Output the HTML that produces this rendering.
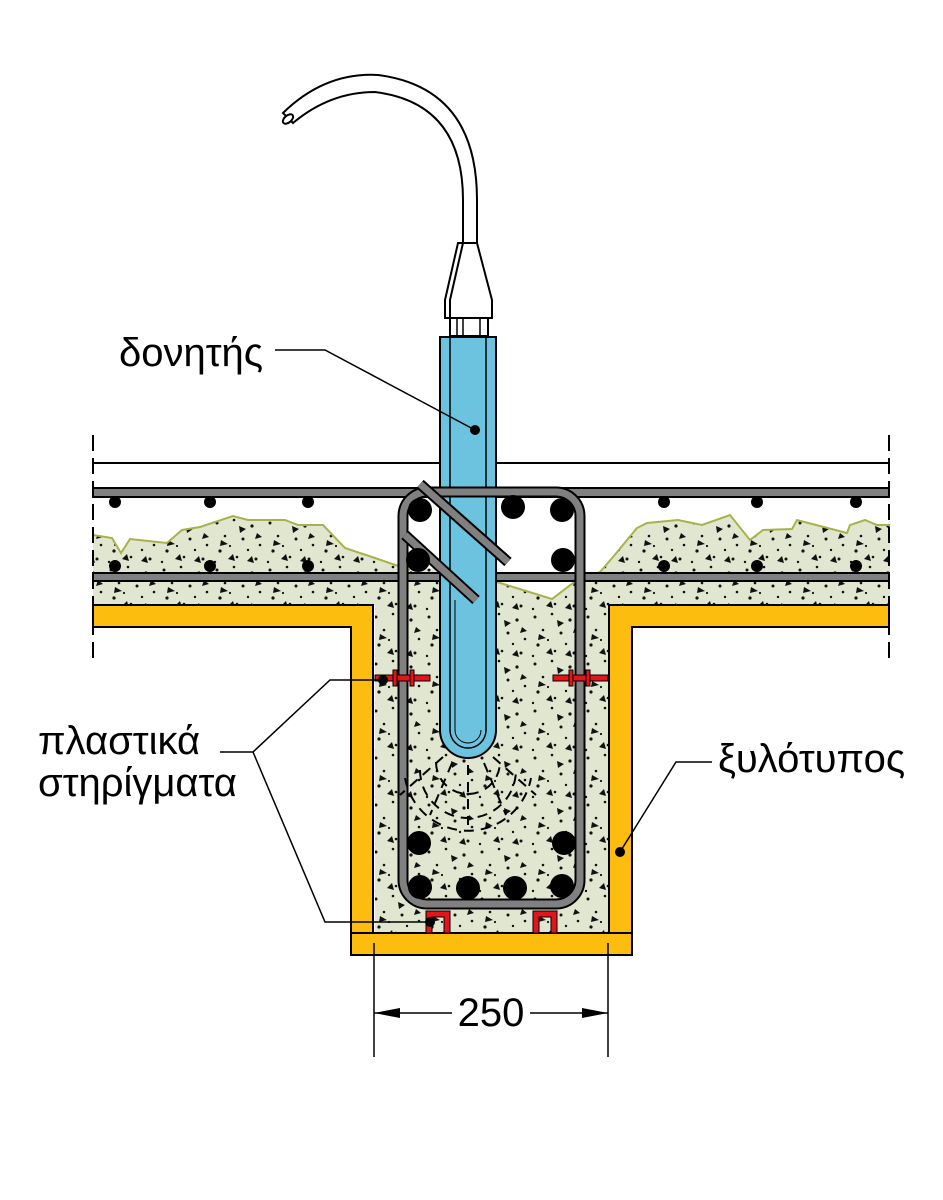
<!DOCTYPE html>
<html><head><meta charset="utf-8"><style>
html,body{margin:0;padding:0;background:#fff}
svg{display:block}
text{font-family:"Liberation Sans",Arial,sans-serif;font-size:40px;fill:#000}
</style></head><body>
<svg width="943" height="1200" viewBox="0 0 943 1200" xmlns="http://www.w3.org/2000/svg">
<defs>
<pattern id="sp" width="53" height="47" patternUnits="userSpaceOnUse">
<rect width="53" height="47" fill="#e0e6cf"/>
<g fill="#111">
<circle cx="5" cy="6" r="1.5"/><circle cx="22" cy="3" r="1.3"/><circle cx="40" cy="9" r="1.6"/>
<circle cx="13" cy="19" r="1.3"/><circle cx="31" cy="22" r="1.5"/><circle cx="48" cy="28" r="1.3"/>
<circle cx="8" cy="34" r="1.6"/><circle cx="25" cy="40" r="1.3"/><circle cx="44" cy="42" r="1.5"/>
<circle cx="36" cy="33" r="1.2"/><circle cx="3" cy="45" r="1.2"/><circle cx="18" cy="29" r="1.1"/>
<polygon points="27,9 34,12 28,16"/><polygon points="9,23 16,27 8,29"/><polygon points="45,16 50,20 43,22"/>
<polygon points="16,42 21,37 23,44"/><polygon points="35,44 40,39 42,46"/>
</g>
</pattern>
</defs>

<polygon fill="url(#sp)" stroke="none" points="93,535 112,538 121,553 130,539 167,543 182,530 200,527 233,516 248,520 285,520 298,525 323,525 345,548 375,558 410,570 437,568 497,582 552,599 573,583 600,572 613,557 637,528 647,523 678,520 702,525 730,515 750,540 763,530 792,529 797,520 847,533 850,525 865,520 877,525 890,525 890,605 608,605 608,933 375,933 375,605 93,605"/>
<polyline fill="none" stroke="#a9b24a" stroke-width="2" points="93,535 112,538 121,553 130,539 167,543 182,530 200,527 233,516 248,520 285,520 298,525 323,525 345,548 375,558 410,570"/>
<polyline fill="none" stroke="#a9b24a" stroke-width="2" points="497,582 552,599 573,583 600,572 613,557 637,528 647,523 678,520 702,525 730,515 750,540 763,530 792,529 797,520 847,533 850,525 865,520 877,525 890,525"/>

<line x1="93" y1="463" x2="889" y2="463" stroke="#000" stroke-width="2"/>
<line x1="93" y1="435" x2="93" y2="660" stroke="#000" stroke-width="2" stroke-dasharray="16,7"/>
<line x1="889" y1="435" x2="889" y2="660" stroke="#000" stroke-width="2" stroke-dasharray="16,7"/>

<g fill="#fdbd0f" stroke="#000" stroke-width="2">
<path d="M93,605 H373 V933 H351 V627 H93 Z"/>
<path d="M889,605 H609 V933 H632 V627 H889 Z"/>
<rect x="351" y="933" width="281" height="22"/>
</g>

<rect x="93" y="488" width="796" height="9" fill="#808080" stroke="#000" stroke-width="2"/>
<rect x="93" y="573" width="796" height="8" fill="#808080" stroke="#000" stroke-width="2"/>
<g fill="#000">
<circle cx="115" cy="502" r="6"/><circle cx="210" cy="502" r="6"/><circle cx="308" cy="502" r="6"/>
<circle cx="664" cy="502" r="6"/><circle cx="757" cy="502" r="6"/><circle cx="856" cy="502" r="6"/>
<circle cx="115" cy="566" r="6"/><circle cx="210" cy="566" r="6"/><circle cx="308" cy="566" r="6"/>
<circle cx="664" cy="566" r="6"/><circle cx="757" cy="566" r="6"/><circle cx="856" cy="566" r="6"/>
</g>

<path d="M440,337 H496 V730 A28,28 0 0 1 440,730 Z" fill="#6cc3e0" stroke="#000" stroke-width="2"/>
<path d="M450,337 V730 A18,18 0 0 0 486,730 V337" fill="none" stroke="#000" stroke-width="1.5"/>
<path d="M455,600 V730 A13,13 0 0 0 481,730" fill="none" stroke="#000" stroke-width="1"/>

<rect x="403" y="492" width="177" height="412" rx="24" fill="none" stroke="#000" stroke-width="11"/>
<rect x="403" y="492" width="177" height="412" rx="24" fill="none" stroke="#808080" stroke-width="7"/>
<line x1="420" y1="484" x2="508" y2="562" stroke="#000" stroke-width="11"/>
<line x1="420" y1="484" x2="508" y2="562" stroke="#808080" stroke-width="7"/>
<line x1="405" y1="535" x2="476" y2="600" stroke="#000" stroke-width="11"/>
<line x1="405" y1="535" x2="476" y2="600" stroke="#808080" stroke-width="7"/>
<g fill="#000">
<circle cx="420" cy="510" r="12"/><circle cx="513" cy="507" r="12"/><circle cx="562" cy="510" r="12"/>
<circle cx="418" cy="560" r="12"/><circle cx="563" cy="560" r="12"/>
<circle cx="419" cy="843" r="12"/><circle cx="564" cy="843" r="12"/>
<circle cx="420" cy="887" r="12"/><circle cx="468" cy="888" r="12"/><circle cx="515" cy="888" r="12"/><circle cx="562" cy="886" r="12"/>
</g>

<g fill="none" stroke="#000" stroke-width="2" stroke-dasharray="10,7">
<path d="M436,762 A32,32 0 0 0 500,762"/>
<path d="M420,770 A48,48 0 0 0 516,770"/>
<path d="M405,778 A64,64 0 0 0 531,778"/>
<line x1="468" y1="765" x2="468" y2="825"/>
<line x1="452" y1="763" x2="430" y2="815"/>
<line x1="484" y1="763" x2="506" y2="815"/>
<line x1="443" y1="757" x2="400" y2="795"/>
<line x1="493" y1="757" x2="536" y2="795"/>
</g>

<g fill="#e3141b" stroke="#000" stroke-width="1">
<rect x="375" y="675" width="55" height="6"/><rect x="393" y="670" width="4" height="16"/><rect x="410" y="670" width="4" height="16"/>
<rect x="553" y="675" width="55" height="6"/><rect x="569" y="670" width="4" height="16"/><rect x="586" y="670" width="4" height="16"/>
</g>
<path d="M426,933 V911 H450 V933 H444 V917 H432 V933 Z" fill="#e3141b" stroke="#000" stroke-width="1"/>
<path d="M533,933 V911 H557 V933 H551 V917 H539 V933 Z" fill="#e3141b" stroke="#000" stroke-width="1"/>

<g fill="#fff" stroke="#000" stroke-width="2">
<path d="M283,113 Q325,72 378,75 Q477,88 477,200 L477,243 L463,243 L463,200 Q463,103 375,92 Q330,92 293,123 Z"/>
<ellipse cx="288" cy="119" rx="6" ry="3.5" transform="rotate(-40 288 119)"/>
<path d="M458,243 H477 L492,300 V318 H445 V300 Z"/>
<path d="M463,243 L450,300 V318" fill="none"/>
<rect x="450" y="318" width="38" height="18"/>
</g>
<g stroke="#000" stroke-width="1.5"><line x1="457" y1="318" x2="457" y2="336"/><line x1="463" y1="318" x2="463" y2="336"/><line x1="480" y1="318" x2="480" y2="336"/></g>

<g fill="none" stroke="#000" stroke-width="1.5">
<polyline points="275,350 325,350 475,430"/>
<polyline points="220,752 253,752 330,680 383,680"/>
<polyline points="253,752 325,922 430,922"/>
<polyline points="712,762 676,762 620,852"/>
</g>
<g fill="#000"><circle cx="475" cy="430" r="5"/><circle cx="383" cy="680" r="5"/><circle cx="430" cy="922" r="5"/><circle cx="620" cy="852" r="5"/></g>

<g stroke="#000" stroke-width="1.5">
<line x1="374" y1="943" x2="374" y2="1057"/><line x1="608" y1="943" x2="608" y2="1057"/>
<line x1="374" y1="1013" x2="452" y2="1013"/><line x1="530" y1="1013" x2="608" y2="1013"/>
</g>
<polygon points="374,1013 400,1008 400,1018" fill="#000"/>
<polygon points="608,1013 582,1008 582,1018" fill="#000"/>
<text x="491" y="1026" text-anchor="middle" font-size="37">250</text>

<text x="119" y="366">δονητής</text>
<text x="38" y="754">πλαστικά</text>
<text x="38" y="796">στηρίγματα</text>
<text x="718" y="772">ξυλότυπος</text>
</svg>
</body></html>
